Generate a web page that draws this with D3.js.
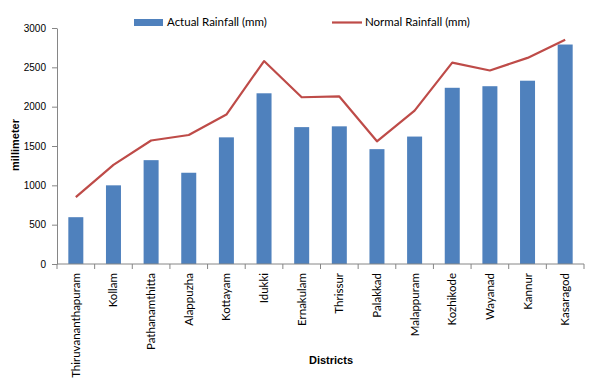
<!DOCTYPE html>
<html>
<head>
<meta charset="utf-8">
<script src="https://cdn.jsdelivr.net/npm/d3@7"></script>
<style>
  body { margin: 0; background: #fff; }
  svg { display: block; }
</style>
</head>
<body>
<svg id="chart"></svg>
<script>
// data
const districts = ["Thiruvananthapuram", "Kollam", "Pathanamthitta", "Alappuzha", "Kottayam", "Idukki",
  "Ernakulam", "Thrissur", "Palakkad", "Malappuram", "Kozhikode", "Wayanad", "Kannur", "Kasaragod"];
const actual = [595, 1000, 1320, 1160, 1610, 2170, 1740, 1750, 1460, 1620, 2240, 2260, 2330, 2790];
const normal = [850, 1260, 1570, 1640, 1900, 2580, 2120, 2130, 1560, 1950, 2560, 2460, 2620, 2850];
const yTicks = [0, 500, 1000, 1500, 2000, 2500, 3000];

const width = 593, height = 387;
const margin = { top: 28, right: 10, bottom: 123, left: 57 };

const svg = d3.select("#chart").attr("width", width).attr("height", height);

const xb = d3.scaleBand().domain(districts).range([margin.left, 584]);
const y = d3.scaleLinear().domain([0, 3000]).range([height - margin.bottom, margin.top]);

const axisColor = "#868686";

// bars
svg.append("g")
  .selectAll("rect")
  .data(districts)
  .enter()
  .append("rect")
  .attr("x", d => xb(d) + xb.bandwidth() / 2 - 7.5)
  .attr("width", 15)
  .attr("y", (d, i) => y(actual[i]))
  .attr("height", (d, i) => y(0) - y(actual[i]))
  .attr("fill", "#4F81BD");

// normal line
const line = d3.line()
  .x((d, i) => xb(districts[i]) + xb.bandwidth() / 2)
  .y(d => y(d));
svg.append("path")
  .datum(normal)
  .attr("d", line)
  .attr("fill", "none")
  .attr("stroke", "#BE4B48")
  .attr("stroke-width", 2.2)
  .attr("stroke-linejoin", "round");

// y axis
const yAxis = svg.append("g")
  .attr("transform", `translate(${margin.left},0)`)
  .call(d3.axisLeft(y).tickValues(yTicks).tickFormat(d3.format("d")).tickSize(5).tickPadding(6).tickSizeOuter(0));
yAxis.select(".domain").attr("stroke", axisColor);
yAxis.selectAll(".tick line").attr("stroke", axisColor);
yAxis.selectAll(".tick text")
  .attr("font-family", "Liberation Sans, Arial, sans-serif")
  .attr("font-size", 10)
  .attr("fill", "#000");

// x axis: ticks on category boundaries
const xAxis = svg.append("g").attr("transform", `translate(0,${y(0)})`);
xAxis.append("line")
  .attr("x1", margin.left).attr("x2", 584)
  .attr("stroke", axisColor);
xAxis.selectAll(".btick")
  .data(districts.concat(["end"]))
  .enter()
  .append("line")
  .attr("x1", (d, i) => i < districts.length ? xb(d) : 584)
  .attr("x2", (d, i) => i < districts.length ? xb(d) : 584)
  .attr("y1", 0).attr("y2", 5)
  .attr("stroke", axisColor);

xAxis.selectAll(".lbl")
  .data(districts)
  .enter()
  .append("text")
  .attr("transform", d => `translate(${xb(d) + xb.bandwidth() / 2 + 4},9) rotate(-90)`)
  .attr("text-anchor", "end")
  .attr("font-family", "Lato, sans-serif")
  .attr("font-size", 11.5)
  .attr("fill", "#000")
  .text(d => d);

// axis titles
svg.append("text")
  .attr("transform", "translate(19,145) rotate(-90)")
  .attr("text-anchor", "middle")
  .attr("font-family", "Liberation Sans, Arial, sans-serif")
  .attr("font-weight", "bold")
  .attr("font-size", 11)
  .text("millimeter");

svg.append("text")
  .attr("x", 331).attr("y", 364)
  .attr("text-anchor", "middle")
  .attr("font-family", "Liberation Sans, Arial, sans-serif")
  .attr("font-weight", "bold")
  .attr("font-size", 11)
  .text("Districts");

// legend
const legend = svg.append("g").attr("font-family", "Lato, sans-serif").attr("font-size", 11.5);
legend.append("rect").attr("x", 134).attr("y", 19).attr("width", 29).attr("height", 7).attr("fill", "#4F81BD");
legend.append("text").attr("x", 167).attr("y", 26).text("Actual Rainfall (mm)");
legend.append("line").attr("x1", 332).attr("x2", 362).attr("y1", 22.5).attr("y2", 22.5)
  .attr("stroke", "#BE4B48").attr("stroke-width", 2.2);
legend.append("text").attr("x", 365).attr("y", 26).text("Normal Rainfall (mm)");
</script>
</body>
</html>
